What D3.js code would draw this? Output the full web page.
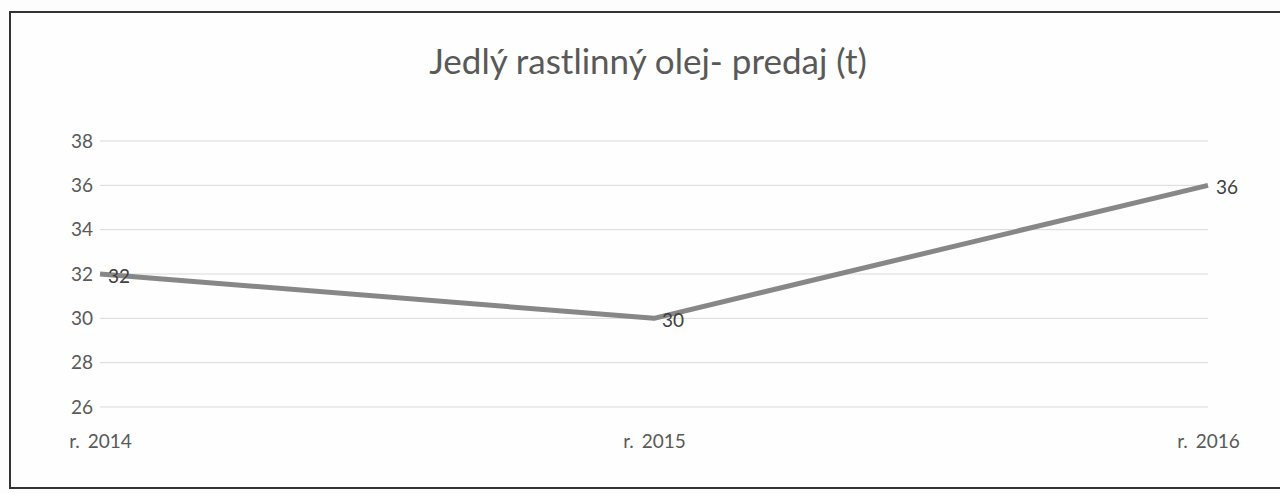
<!DOCTYPE html>
<html>
<head>
<meta charset="utf-8">
<script src="https://cdn.jsdelivr.net/npm/d3@7"></script>
<style>
  html, body { margin: 0; padding: 0; background: #fdfdfd; }
  svg { display: block; }
  text { font-family: Lato, "Open Sans", sans-serif; }
</style>
</head>
<body>
<svg id="chart" width="1280" height="493"></svg>
<script>
const title = "Jedlý rastlinný olej- predaj (t)";
const categories = ["r. 2014", "r. 2015", "r. 2016"];
const values = [32, 30, 36];
const yTicks = [26, 28, 30, 32, 34, 36, 38];

const svg = d3.select("#chart");

// frame
svg.append("rect").attr("x", 10).attr("y", 12).attr("width", 1290).attr("height", 476)
  .attr("fill", "#fefefe").attr("stroke", "#333").attr("stroke-width", 2);

const x = d3.scalePoint().domain(categories).range([100, 1208]);
const y = d3.scaleLinear().domain([26, 38]).range([407, 141]);

// gridlines
svg.append("g").selectAll("line").data(yTicks).join("line")
  .attr("x1", 100).attr("x2", 1208)
  .attr("y1", d => y(d)).attr("y2", d => y(d))
  .attr("stroke", "#d9d9d9").attr("stroke-width", 1);

// y axis labels
const yAxis = d3.axisLeft(y).tickValues(yTicks).tickSize(0).tickPadding(0);
const gy = svg.append("g").attr("transform", "translate(93,0)").call(yAxis);
gy.select(".domain").remove();
gy.selectAll("text").attr("fill", "#595959").style("font-size", "19px").attr("font-family", "Lato, sans-serif");

// x axis labels
const xAxis = d3.axisBottom(x).tickSize(0).tickPadding(0);
const gx = svg.append("g").attr("transform", "translate(0,434)").call(xAxis);
gx.select(".domain").remove();
gx.selectAll("text").attr("fill", "#595959").style("font-size", "19px")
  .style("word-spacing", "3px").attr("font-family", "Lato, sans-serif");

// title
svg.append("text").attr("x", 648).attr("y", 74).attr("text-anchor", "middle")
  .attr("fill", "#595959").style("font-size", "35px").text(title);

// line
const line = d3.line().x((d, i) => x(categories[i])).y(d => y(d));
svg.append("path").datum(values).attr("d", line)
  .attr("fill", "none").attr("stroke", "#878787").attr("stroke-width", 5)
  .attr("stroke-linejoin", "round");

// data labels
svg.append("g").selectAll("text").data(values).join("text")
  .attr("x", (d, i) => x(categories[i]) + 8)
  .attr("y", d => y(d) + 2)
  .attr("dy", "0.35em")
  .attr("fill", "#404040").style("font-size", "19px")
  .text(d => d);
</script>
</body>
</html>
